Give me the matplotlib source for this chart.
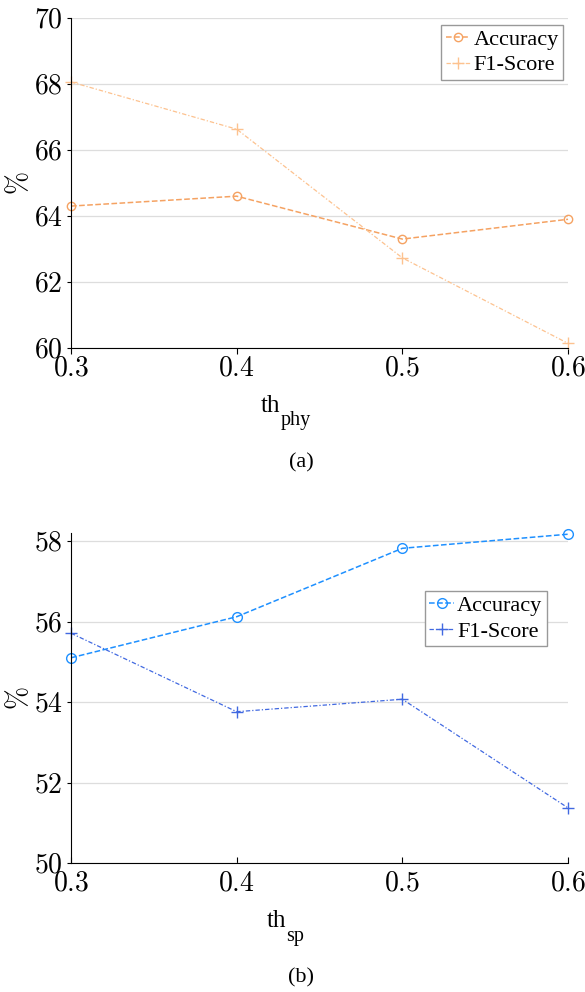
import numpy as np
import matplotlib
matplotlib.use("Agg")
import matplotlib.pyplot as plt
from matplotlib import font_manager

plt.rcParams["mathtext.fontset"] = "cm"
plt.rcParams["font.family"] = ["Liberation Serif", "DejaVu Serif"]

# thresholds
th_values = [0.3, 0.4, 0.5, 0.6]

# (a) th_phy
phy_accuracy = [64.3, 64.6, 63.3, 63.9]
phy_f1 = [68.06, 66.63, 62.73, 60.14]

# (b) th_sp
sp_accuracy = [55.10, 56.12, 57.82, 58.17]
sp_f1 = [55.71, 53.76, 54.07, 51.37]

x_ticklabels = ["0.3", "0.4", "0.5", "0.6"]

times = font_manager.FontProperties(family="Liberation Serif", size=16)


def style_axes(ax, yticks, ylim, xtick_dir, xpad):
    ax.set_xlim(0.3, 0.6)
    ax.set_ylim(*ylim)
    ax.set_xticks(th_values)
    ax.set_xticklabels(["$%s$" % t for t in x_ticklabels])
    ax.set_yticks(yticks)
    ax.set_yticklabels(["$%d$" % t for t in yticks])
    ax.tick_params(axis="both", labelsize=20, width=0.8)
    ax.tick_params(axis="y", direction="out", length=3, pad=3)
    ax.tick_params(axis="x", direction=xtick_dir, length=4, pad=xpad)
    ax.spines["top"].set_visible(False)
    ax.spines["right"].set_visible(False)
    ax.yaxis.grid(True, color="#dddddd", linewidth=0.9)
    ax.set_axisbelow(True)
    ax.set_ylabel("$\\%$", fontsize=20)
    ax.yaxis.set_label_coords(-0.076, 0.5)


def add_legend(ax, loc, anchor):
    ax.legend(loc=loc, bbox_to_anchor=anchor, prop=times,
              handlelength=1.1, handletextpad=0.15, borderpad=0.2, labelspacing=0.22,
              fancybox=False, edgecolor="#999999", framealpha=1, borderaxespad=0)


def add_xlabel(x, baseline, sub):
    # "th" with a large subscript, placed in figure pixels
    fig.text(x / 585, 1 - baseline / 992, "th", fontsize=18, va="baseline",
             family="Liberation Serif")
    fig.text((x + 19.5) / 585, 1 - (baseline + 13.5) / 992, sub, fontsize=14.5,
             va="baseline", family="Liberation Serif")


F1_DASH = (3.5, 1.6, 1, 1.6)

fig = plt.figure(figsize=(5.85, 9.92), dpi=100)

# (a)
ax1 = fig.add_axes([0.1214, 0.6492, 0.8496, 0.3327])
ax1.plot(th_values, phy_accuracy, "--", color="#F5A262", marker="o", markersize=6,
         markerfacecolor="none", linewidth=1.1, label="Accuracy", clip_on=False)
ax1.plot(th_values, phy_f1, color="#FDC28F", marker="+", markersize=8, dashes=F1_DASH,
         linewidth=0.9, label="F1-Score", clip_on=False)
style_axes(ax1, [60, 62, 64, 66, 68, 70], (60, 70), "out", 2)
add_xlabel(261, 412, "phy")
add_legend(ax1, "upper right", (0.99, 0.979))
fig.text(0.515, 0.533, "(a)", ha="center", va="center", fontproperties=times)

# (b)
ax2 = fig.add_axes([0.1214, 0.1300, 0.8496, 0.3327])
ax2.plot(th_values, sp_accuracy, "--", color="#1E90FF", marker="o", markersize=7,
         markerfacecolor="none", linewidth=1.1, label="Accuracy", clip_on=False)
ax2.plot(th_values, sp_f1, color="#4169E1", marker="+", markersize=8, dashes=F1_DASH,
         linewidth=0.9, label="F1-Score", clip_on=False)
style_axes(ax2, [50, 52, 54, 56, 58], (50, 58.2), "in", 6)
add_xlabel(267, 927, "sp")
add_legend(ax2, "upper left", (0.712, 0.824))
fig.text(0.515, 0.014, "(b)", ha="center", va="center", fontproperties=times)

fig.savefig("out.png", dpi=100)
